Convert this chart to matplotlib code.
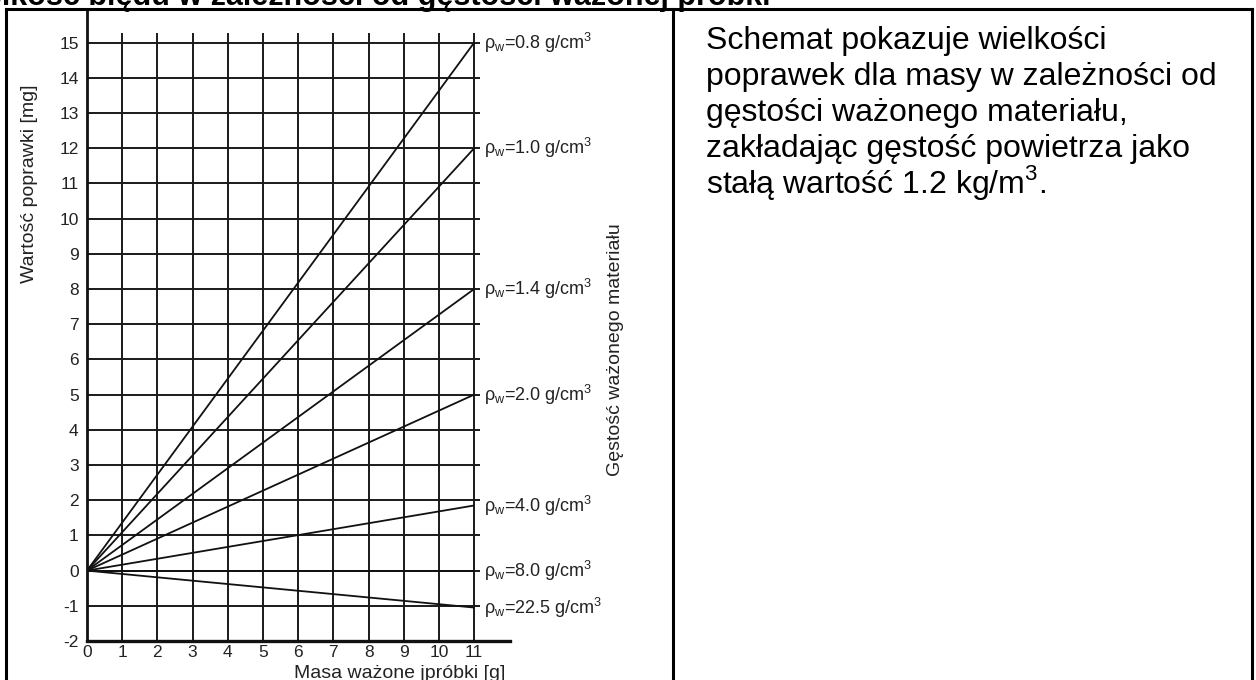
import matplotlib
matplotlib.use("Agg")
import matplotlib.pyplot as plt
from matplotlib.lines import Line2D

plt.rcParams['font.family'] = ['Liberation Sans', 'DejaVu Sans']
plt.rcParams['axes.unicode_minus'] = False

# --- data -------------------------------------------------------------
mass_ticks = list(range(0, 12))          # g
corr_ticks = list(range(-2, 16))         # mg
densities = ["0.8", "1.0", "1.4", "2.0", "4.0", "8.0", "22.5"]   # g/cm3
corr_at_11g = [15.0, 12.0, 8.0, 5.0, 1.85, 0.0, -1.05]          # mg at 11 g
mass_end = 11

title_text = "Wielkość błędu w zależności od gęstości ważonej próbki"
body_lines = [
    "Schemat pokazuje wielkości",
    "poprawek dla masy w zależności od",
    "gęstości ważonego materiału,",
    "zakładając gęstość powietrza jako",
    r"stałą wartość 1.2 kg/m$^\mathregular{3}$.",
]

W, H = 1256, 680
fig = plt.figure(figsize=(W / 100, H / 100), dpi=100)
fig.patch.set_facecolor("white")


def fx(px):
    return px / W


def fy(py):
    return 1 - py / H


# --- page frame: table with two cells ---------------------------------
frame_kw = dict(color="black", lw=2.2, transform=fig.transFigure, solid_capstyle="projecting")
fig.add_artist(Line2D([fx(6), fx(1252)], [fy(9), fy(9)], **frame_kw))
fig.add_artist(Line2D([fx(6), fx(6)], [fy(9), fy(682)], **frame_kw))
fig.add_artist(Line2D([fx(1252), fx(1252)], [fy(9), fy(682)], **frame_kw))
fig.add_artist(Line2D([fx(673), fx(673)], [fy(9), fy(682)], **frame_kw))

# heading above the table (runs off the top of the page)
fig.text(fx(770), fy(5), title_text, ha="right", va="baseline",
         fontsize=22, fontweight="bold", color="black")

# description in the right cell
for i, line in enumerate(body_lines):
    fig.text(fx(706), fy(49 + i * 36), line, ha="left", va="baseline",
             fontsize=23, color="black")

# --- chart ------------------------------------------------------------
unit = 35.2
ax_left, ax_right, ax_bottom, ax_top = 87, 510, 641, 10
ax = fig.add_axes([fx(ax_left), fy(ax_bottom), (ax_right - ax_left) / W, (ax_bottom - ax_top) / H])
ax.set_xlim(0, (ax_right - ax_left) / unit)
ax.set_ylim(-2, -2 + (ax_bottom - ax_top) / unit)
ax.patch.set_alpha(0)

for side in ("top", "right"):
    ax.spines[side].set_visible(False)
ax.spines["left"].set_linewidth(2.0)
ax.spines["bottom"].set_linewidth(2.4)
ax.spines["left"].set_color("#111111")
ax.spines["bottom"].set_color("#111111")

ink = "#1a1a1a"
ax.vlines(mass_ticks[1:], -2, 15.27, colors=ink, lw=1.4)
ax.hlines(corr_ticks[1:], 0, 11.17, colors=ink, lw=1.4)

for dens, val in zip(densities, corr_at_11g):
    ax.plot([0, mass_end], [0, val], color="#111111", lw=1.3, solid_capstyle="butt")
    ax.text(11.28, val,
            r"ρ$_\mathregular{w}$=" + dens + r" g/cm$^\mathregular{3}$",
            ha="left", va="center", fontsize=13, color="#222222")

ax.set_xticks(mass_ticks)
ax.set_yticks(corr_ticks)
ax.tick_params(axis="both", length=0, labelsize=12.5, labelcolor="#222222")
ax.tick_params(axis="x", pad=3)
ax.tick_params(axis="y", pad=6)

fig.text(fx(30), fy(184), "Wartość poprawki [mg]", rotation=90,
         ha="center", va="center", fontsize=14, color="#222222")
fig.text(fx(400), fy(678), "Masa ważone jpróbki [g]",
         ha="center", va="baseline", fontsize=14, color="#222222")
fig.text(fx(615), fy(350), "Gęstość ważonego materiału", rotation=90,
         ha="center", va="center", fontsize=14, color="#222222")

fig.savefig("out.png", dpi=100, facecolor="white")
